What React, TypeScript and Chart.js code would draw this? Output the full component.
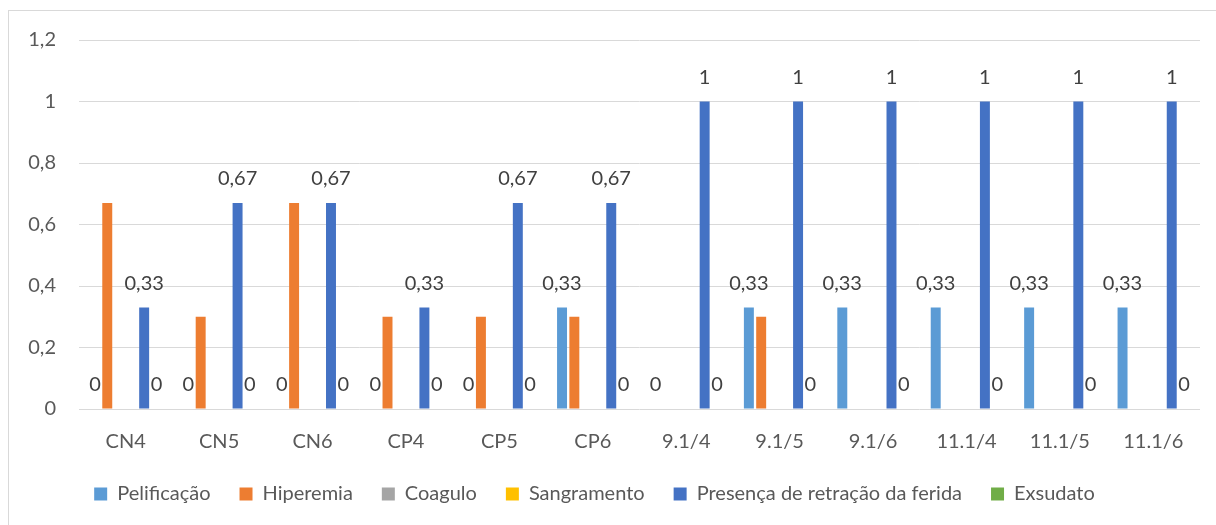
import React, { useEffect, useRef } from "react";
import { Chart, registerables } from "chart.js";

Chart.register(...registerables);

const categories = ["CN4", "CN5", "CN6", "CP4", "CP5", "CP6", "9.1/4", "9.1/5", "9.1/6", "11.1/4", "11.1/5", "11.1/6"];

const pelificacao = [0, 0, 0, 0, 0, 0.33, 0, 0.33, 0.33, 0.33, 0.33, 0.33];
const hiperemia = [0.67, 0.3, 0.67, 0.3, 0.3, 0.3, 0, 0.3, 0, 0, 0, 0];
const coagulo = [0, 0, 0, 0, 0, 0, 0, 0, 0, 0, 0, 0];
const sangramento = [0, 0, 0, 0, 0, 0, 0, 0, 0, 0, 0, 0];
const retracao = [0.33, 0.67, 0.67, 0.33, 0.67, 0.67, 1, 1, 1, 1, 1, 1];
const exsudato = [0, 0, 0, 0, 0, 0, 0, 0, 0, 0, 0, 0];

const seriesNames = ["Pelificação", "Hiperemia", "Coagulo", "Sangramento", "Presença de retração da ferida", "Exsudato"];
const seriesColors = ["#5B9BD5", "#ED7D31", "#A5A5A5", "#FFC000", "#4472C4", "#70AD47"];
const seriesValues = [pelificacao, hiperemia, coagulo, sangramento, retracao, exsudato];
// series whose values are printed above the bars
const labelledSeries = [0, 4, 5];

const FONT = "Lato, 'Open Sans', sans-serif";
const TEXT = "#595959";
const GRID = "#D9D9D9";

const fmt = (v: number) => String(Math.round(v * 100) / 100).replace(".", ",");

const valueLabels = {
  id: "valueLabels",
  afterDatasetsDraw(chart: any) {
    const ctx = chart.ctx;
    ctx.save();
    ctx.font = `20px ${FONT}`;
    ctx.fillStyle = "#404040";
    ctx.textAlign = "center";
    ctx.textBaseline = "alphabetic";
    labelledSeries.forEach((di) => {
      const meta = chart.getDatasetMeta(di);
      const data = chart.data.datasets[di].data as number[];
      meta.data.forEach((bar: any, i: number) => {
        ctx.fillText(fmt(data[i]), bar.x, bar.y - 18);
      });
    });
    ctx.restore();
  },
};

// nudge the legend row a little to the left of the canvas centre
const legendShift = {
  id: "legendShift",
  afterLayout(chart: any) {
    if (chart.legend) {
      chart.legend.left -= 10;
      chart.legend.right -= 10;
    }
  },
};

export default function App() {
  const ref = useRef<HTMLCanvasElement>(null);

  useEffect(() => {
    const chart = new Chart(ref.current!, {
      type: "bar",
      data: {
        labels: categories,
        datasets: seriesNames.map((name, i) => ({
          label: name,
          data: seriesValues[i],
          backgroundColor: seriesColors[i],
          borderWidth: 0,
          categoryPercentage: 0.79,
          barPercentage: 0.81,
        })),
      },
      options: {
        animation: false,
        responsive: false,
        maintainAspectRatio: false,
        layout: { padding: { top: 29, left: 0, right: 16, bottom: 11 } },
        plugins: {
          tooltip: { enabled: false },
          legend: {
            position: "bottom",
            labels: {
              boxWidth: 13,
              boxHeight: 13,
              padding: 29,
              color: TEXT,
              font: { family: FONT, size: 20 },
            },
          },
        },
        scales: {
          x: {
            grid: { display: false },
            border: { display: false },
            ticks: { color: TEXT, font: { family: FONT, size: 20 }, padding: 13, maxRotation: 0 },
            afterFit: (s: any) => {
              s.height = 46;
            },
          },
          y: {
            min: 0,
            max: 1.2,
            grid: { color: GRID, lineWidth: 1, drawTicks: false },
            border: { display: false },
            ticks: {
              stepSize: 0.2,
              color: TEXT,
              padding: 23,
              font: { family: FONT, size: 20 },
              callback: (v: any) => fmt(Number(v)),
            },
            afterFit: (s: any) => {
              s.width = 70;
              s.paddingTop = 0;
              s.paddingBottom = 0;
            },
          },
        },
      },
      plugins: [valueLabels, legendShift],
    });
    return () => chart.destroy();
  }, []);

  return (
    <div
      style={{
        position: "fixed",
        left: 8,
        top: 10,
        width: 1208,
        height: 515,
        borderLeft: `1px solid ${GRID}`,
        borderTop: `1px solid ${GRID}`,
        background: "#fff",
      }}
    >
      <canvas ref={ref} width={1207} height={514} style={{ display: "block" }} />
    </div>
  );
}
